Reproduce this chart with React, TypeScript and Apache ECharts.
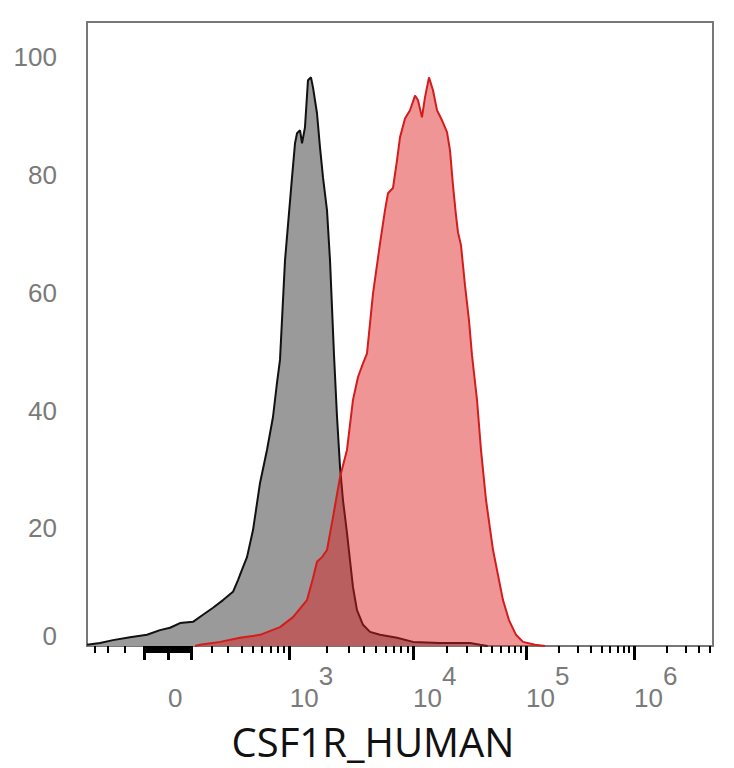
import React, { useEffect, useRef } from "react";
import * as echarts from "echarts";

// Histogram data: x in display (transformed) units 0..1000 across the axis, y = % of max
const GRAY_X = [0, 20.8, 41.5, 68.7, 95.8, 116.6, 132.6, 148.6, 169.3, 185.3, 201.3, 217.3, 233.2, 241.2, 249.2, 255.6, 265.2, 276.4, 287.5, 297.1, 303.5, 308.3, 316.3, 327.5, 332.3, 335.5, 340.3, 343.5, 348.2, 353.0, 357.8, 361.0, 367.4, 372.2, 377.0, 383.4, 388.2, 394.6, 399.4, 404.2, 408.9, 415.3, 420.1, 424.9, 431.3, 440.9, 452.1, 468.1, 495.2, 520.8, 563.9, 611.8, 627.8, 640];
const GRAY_Y = [0.2, 0.5, 1.0, 1.5, 1.9, 2.7, 3.1, 3.9, 4.1, 5.3, 6.5, 7.8, 9.2, 11.2, 13.4, 15.1, 19.7, 27.7, 33.3, 38.9, 44.7, 48.6, 65.5, 79.6, 85.4, 87.1, 87.6, 85.4, 88.1, 96.1, 96.6, 94.9, 90.5, 84.7, 79.6, 74.0, 65.5, 49.4, 38.9, 30.4, 24.8, 19.2, 14.6, 10.0, 6.1, 3.6, 2.4, 1.9, 1.4, 0.7, 0.5, 0.5, 0.2, 0];

const RED_X = [172.5, 180.5, 212.5, 244.4, 276.4, 308.3, 329.1, 351.4, 361.0, 367.4, 375.4, 383.4, 393.0, 404.2, 415.3, 424.9, 432.9, 440.9, 447.3, 456.9, 468.1, 476.0, 480.8, 488.8, 495.2, 500.0, 508.0, 516.0, 524.0, 528.8, 535.1, 539.9, 546.3, 552.7, 559.1, 567.1, 575.1, 579.9, 584.6, 589.4, 592.6, 597.4, 603.8, 610.2, 615.0, 623.0, 629.4, 637.4, 648.6, 664.5, 674.1, 685.3, 696.5, 715.7, 731.6];
const RED_Y = [0, 0.2, 0.7, 1.4, 1.9, 3.2, 4.9, 7.8, 11.5, 14.3, 15.1, 16.3, 21.9, 28.7, 33.3, 41.8, 45.7, 48.0, 49.7, 59.9, 68.4, 74.0, 76.9, 77.8, 82.5, 86.4, 89.6, 91.0, 93.5, 92.7, 89.8, 93.2, 96.6, 94.4, 91.0, 89.3, 87.3, 84.2, 78.3, 73.2, 70.3, 68.1, 61.3, 55.3, 49.4, 41.8, 33.3, 24.8, 16.3, 7.8, 4.4, 1.9, 0.7, 0.2, 0];

// Axis scale definition (biexponential display)
const ZERO_POS = 129.4;
const LIN_K = 90.25;
const LIN_W = 235;
const DECADE_VALUES = [1e3, 1e4, 1e5, 1e6];
const DECADE_POS = [324.3, 520.8, 701.3, 873.8];

const X_LABEL_VALUES = [0, 1e3, 1e4, 1e5, 1e6];
const X_LABEL_BASE = ["0", "10", "10", "10", "10"];
const X_LABEL_EXP = ["", "3", "4", "5", "6"];
const MAJOR_TICK_VALUES = [-100, 0, 100, 1e3, 1e4, 1e5, 1e6];
const Y_LABELS = [0, 20, 40, 60, 80, 100];
const X_TITLE = "CSF1R_HUMAN";

function toDisplay(v: number): number {
  if (v <= 1000) return ZERO_POS + LIN_K * Math.asinh(v / LIN_W);
  const lv = Math.log10(v);
  const n = DECADE_VALUES.length;
  for (let i = 0; i < n - 1; i++) {
    const a = Math.log10(DECADE_VALUES[i]);
    const b = Math.log10(DECADE_VALUES[i + 1]);
    if (lv <= b) return DECADE_POS[i] + ((lv - a) / (b - a)) * (DECADE_POS[i + 1] - DECADE_POS[i]);
  }
  const step = DECADE_POS[n - 1] - DECADE_POS[n - 2];
  return DECADE_POS[n - 1] + (lv - Math.log10(DECADE_VALUES[n - 1])) * step;
}

function minorTickValues(): number[] {
  const out: number[] = [-400, -300, -200];
  for (let v = -95; v <= 95; v += 5) if (v !== 0) out.push(v);
  for (let m = 2; m <= 9; m++) out.push(m * 100);
  for (const d of [1e3, 1e4, 1e5]) for (let m = 2; m <= 9; m++) out.push(m * d);
  for (let m = 2; m <= 5; m++) out.push(m * 1e6);
  return out;
}

export default function App() {
  const ref = useRef<HTMLDivElement>(null);
  useEffect(() => {
    if (!ref.current) return;
    const chart = echarts.init(ref.current, undefined, { renderer: "svg" });
    const labelPos = X_LABEL_VALUES.map(toDisplay);
    const majorPos = MAJOR_TICK_VALUES.map(toDisplay);
    const minorPos = minorTickValues().map(toDisplay).filter((p) => p > 0 && p < 1000);
    const labelColor = "#7a7a7a";
    const fontFamily = "Liberation Sans";
    chart.setOption({
      animation: false,
      backgroundColor: "#ffffff",
      grid: {
        left: 87,
        right: 21,
        top: 22,
        bottom: 122,
        show: true,
        borderColor: "#777777",
        borderWidth: 2,
        backgroundColor: "transparent",
      },
      xAxis: [
        {
          type: "value",
          min: 0,
          max: 1000,
          position: "bottom",
          axisLine: { show: false },
          splitLine: { show: false },
          axisTick: {
            show: true,
            customValues: majorPos,
            length: 14,
            lineStyle: { color: "#000000", width: 3 },
          },
          axisLabel: {
            show: true,
            customValues: labelPos,
            align: "left",
            verticalAlign: "top",
            margin: 43,
            formatter: (val: number) => {
              let idx = 0;
              let best = Infinity;
              labelPos.forEach((p, i) => {
                const d = Math.abs(p - val);
                if (d < best) {
                  best = d;
                  idx = i;
                }
              });
              if (X_LABEL_EXP[idx] === "") return "{z|" + X_LABEL_BASE[idx] + "}";
              return "{b|" + X_LABEL_BASE[idx] + "}{s|" + X_LABEL_EXP[idx] + "}";
            },
            rich: {
              b: { fontSize: 26, color: labelColor, fontFamily, lineHeight: 22, verticalAlign: "bottom" },
              z: { fontSize: 26, color: labelColor, fontFamily, lineHeight: 22, padding: [22, 0, 0, 0], verticalAlign: "bottom" },
              s: { fontSize: 26, color: labelColor, fontFamily, lineHeight: 22, padding: [0, 0, 22, 0], verticalAlign: "bottom" },
            },
          },
        },
        {
          type: "value",
          min: 0,
          max: 1000,
          position: "bottom",
          axisLine: { show: false },
          splitLine: { show: false },
          axisLabel: { show: false },
          axisTick: {
            show: true,
            customValues: minorPos,
            length: 7,
            lineStyle: { color: "#000000", width: 2 },
          },
        },
      ],
      yAxis: {
        type: "value",
        min: 0,
        max: 106,
        interval: 20,
        axisLine: { show: false },
        axisTick: { show: false },
        splitLine: { show: false },
        axisLabel: {
          margin: 30,
          fontSize: 26,
          color: labelColor,
          fontFamily,
          formatter: (v: number) => {
            if (!Y_LABELS.includes(v)) return "";
            if (v === 0) return "{z|0}";
            return String(v);
          },
          rich: {
            z: { fontSize: 26, color: labelColor, fontFamily, padding: [0, 0, 20, 0] },
          },
        },
      },
      graphic: [
        {
          type: "text",
          x: 373,
          y: 741,
          style: {
            text: X_TITLE,
            fontSize: 40,
            lineHeight: 40,
            fontFamily: "Open Sans",
            fill: "#111111",
            align: "center",
            verticalAlign: "middle",
          },
        },
      ],
      series: [
        {
          type: "line",
          xAxisIndex: 0,
          data: GRAY_X.map((x, i) => [x, GRAY_Y[i]]),
          showSymbol: false,
          smooth: false,
          lineStyle: { color: "#111111", width: 2 },
          areaStyle: { color: "#9a9a9a", opacity: 1 },
          z: 2,
        },
        {
          type: "line",
          xAxisIndex: 0,
          data: RED_X.map((x, i) => [x, RED_Y[i]]),
          showSymbol: false,
          smooth: false,
          lineStyle: { color: "#d41c1c", width: 2 },
          areaStyle: { color: "rgba(222,30,30,0.47)", opacity: 1 },
          z: 3,
        },
      ],
    });
    return () => chart.dispose();
  }, []);
  return (
    <div
      ref={ref}
      style={{ position: "fixed", left: 0, top: 0, width: 734, height: 768, background: "#fff" }}
    />
  );
}
